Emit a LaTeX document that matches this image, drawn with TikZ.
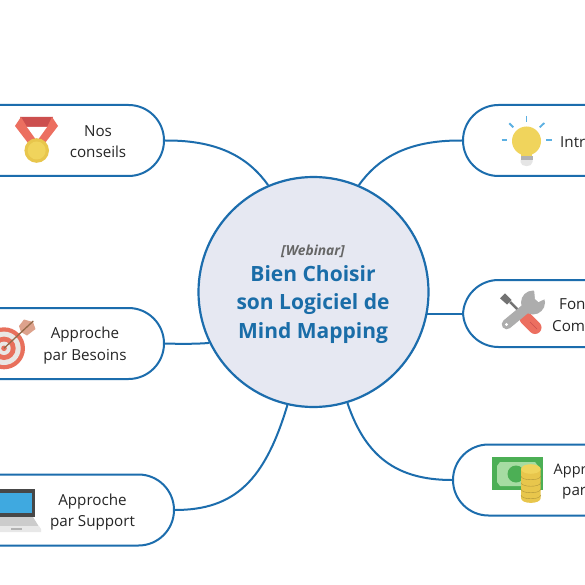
\documentclass[tikz,border=0pt]{standalone}
\usepackage{fontspec}
\setmainfont{Open Sans}
\definecolor{linec}{HTML}{1C6DAD}
\definecolor{hubfill}{HTML}{E6E8F2}
\definecolor{titlec}{HTML}{1A6DA8}
\definecolor{medalred}{HTML}{EC6F60}
\definecolor{medaldark}{HTML}{CC4F4E}
\definecolor{gold}{HTML}{F0D45C}
\definecolor{golddark}{HTML}{E8C64C}
\definecolor{ringred}{HTML}{E8705C}
\definecolor{ringlight}{HTML}{E9E7E4}
\definecolor{arrowbrown}{HTML}{946A48}
\definecolor{fletch}{HTML}{DDA28C}
\definecolor{screenblue}{HTML}{3FA9E0}
\definecolor{raysblue}{HTML}{5CB0E2}
\definecolor{billgreen}{HTML}{4CAF55}
\definecolor{billlight}{HTML}{A6DCA2}
\tikzset{
  pill/.style={draw=linec,line width=2pt,fill=white,rounded corners=35.5pt,inner sep=0pt},
  hub/.style={circle,draw=linec,line width=2.2pt,fill=hubfill,minimum size=230pt,inner sep=0pt},
  link/.style={draw=linec,line width=2pt},
  label/.style={inner sep=0pt,align=center,text=black!85,font=\fontsize{15.2}{21.5}\selectfont},
  cutlabel/.style={label,align=left,anchor=west},
  ray/.style={draw=raysblue,line width=1.8pt},
}
\begin{document}
\begin{tikzpicture}[x=1pt,y=-1pt]
\useasboundingbox (0,0) rectangle (585,585);
\clip (0,0) rectangle (585,585);
\fill[white] (0,0) rectangle (585,585);
% nodes
\node[hub] (c) at (313.5,292) {};
\node[pill,minimum width=264pt,minimum height=71pt] (nos) at (32,140.5) {};
\node[pill,minimum width=264pt,minimum height=71pt] (bes) at (32,343.5) {};
\node[pill,minimum width=274pt,minimum height=71pt] (sup) at (37,510) {};
\node[pill,minimum width=264pt,minimum height=71pt] (intro) at (595,140.5) {};
\node[pill,minimum width=264pt,minimum height=67pt] (fon) at (595,313.5) {};
\node[pill,minimum width=284pt,minimum height=71pt] (app) at (595,480) {};
\coordinate (fonhub) at (427,313.5);
% connectors
\draw[link] (nos.east) .. controls (222,140) and (250,160) .. (c.113);
\draw[link] (intro.west) .. controls (405,140) and (377,160) .. (c.67);
\draw[link] (fon.west) -- (fonhub);
\draw[link] (bes.east) .. controls (180,344) and (198,344) .. (c.206);
\draw[link] (sup.east) .. controls (235,510) and (265,480) .. (c.-103);
\draw[link] (app.west) .. controls (395,480) and (365,455) .. (c.-73);
% hub text
\node[inner sep=0pt,text=black!60,font=\fontsize{13.8}{15}\selectfont\bfseries\itshape] (web) at (313,251.5) {[Webinar]};
\node[inner sep=0pt,align=center,text=titlec,font=\fontsize{21}{28.7}\selectfont\bfseries] (title) at (313,304.5) {Bien Choisir\\son Logiciel de\\Mind Mapping};
% labels
\node[label] (t1) at (98,141.5) {Nos\\conseils};
\node[label] (t2) at (85,345.5) {Approche\\par Besoins};
\node[label] (t3) at (92.5,512) {Approche\\par Support};
\node[cutlabel] (t4) at (560,142) {Intr};
\node[cutlabel] (t5) at (559,304) {Fon};
\node[cutlabel] (t6) at (552,326) {Com};
\node[cutlabel,font=\fontsize{14.5}{21.5}\selectfont] (t7) at (553.5,471.5) {Appr};
\node[cutlabel] (t8) at (562,493) {par};
% medal
\fill[medaldark] (20,117) -- (53,117) -- (48,127) -- (26,127) -- cycle;
\fill[medalred] (15,126) -- (21,117) -- (27,127) -- (37,136) -- (42,145) -- (28,143) -- cycle;
\fill[medalred] (58,126) -- (52,117) -- (47,127) -- (37,136) -- (31,145) -- (45,143) -- cycle;
\fill[white] (27,127) -- (47,127) -- (37,141) -- cycle;
\fill[golddark] (36.7,150.5) circle (12.3);
\fill[gold] (36.7,150.5) circle (9);
% target
\fill[ringred] (4,348.3) circle (21);
\fill[ringlight] (4,348.3) circle (16.7);
\fill[ringred] (4,348.3) circle (11.7);
\fill[ringlight] (4,348.3) circle (6.7);
\fill[ringred] (4,348.3) circle (2.8);
\fill[fletch] (19,326) -- (24,319.5) -- (33,322) -- (35.5,329) -- (27,335.5) -- (21,332) -- cycle;
\draw[arrowbrown,line width=1.3pt] (4,348.3) -- (33.3,321);
% laptop
\fill[black!72] (-6,489) rectangle (35,517);
\fill[screenblue] (-6,492.5) rectangle (32,513);
\fill[black!20] (-8,517) -- (33,517) -- (41,530) -- (-8,530) -- cycle;
\fill[black!9] (-8,526) -- (39,526) -- (41,529) -- (41,532) -- (-8,532) -- cycle;
\fill[black!30] (11,527.5) rectangle (22,529.5);
% bulb
\fill[black!10] (520.5,160) -- (532.5,160) -- (532.5,162) .. controls (532.5,167.5) and (520.5,167.5) .. (520.5,162) -- cycle;
\fill[black!30] (520.5,156) rectangle (532.5,160);
\fill[gold] (526.5,141) circle (14.5);
\fill[gold] (521,150) rectangle (532,156.5);
\draw[ray] (526.5,116) -- (526.5,122);
\draw[ray] (509.3,123.3) -- (513.3,127.3);
\draw[ray] (539.7,127.3) -- (544.3,123);
\draw[ray] (501.7,140.3) -- (507.3,140.3);
\draw[ray] (546,140.3) -- (551.7,140.3);
% tools
\draw[black!55,line width=2.5pt] (510,302) -- (523.3,315);
\fill[black!55] (500,298.3) -- (505,293.3) -- (511.7,300) -- (507,304.5) -- cycle;
\draw[medalred,line width=13pt,line cap=round] (526,318.5) -- (535,327.5);
\draw[medaldark,line width=.6pt] (530,322) -- (537,329);
\draw[black!32,line width=10pt,line cap=round] (506.7,324.3) -- (530,305);
\fill[black!32] (533,302.5) circle (12);
\fill[white] (534,289) -- (535,299) -- (538.5,302) -- (547,298) -- (549,288) -- cycle;
\fill[white] (506.5,324.5) circle (1.6);
% money
\fill[billgreen] (492.3,457.3) rectangle (542.7,490);
\fill[billlight] (500,462) -- (535,462) -- (538,466) -- (538,482) -- (535,486) -- (500,486) -- (497,482) -- (497,466) -- cycle;
\fill[billgreen] (516,474) circle (8.5);
\fill[golddark] (521,469) -- (521,498) .. controls (521,504.5) and (540.7,504.5) .. (540.7,498) -- (540.7,469) -- cycle;
\foreach \yy in {476,482.5,489,495}{
  \draw[black!25!golddark,line width=.4pt] (521,\yy) .. controls (521,\yy+5) and (540.7,\yy+5) .. (540.7,\yy);
}
\fill[gold] (530.85,469) ellipse (9.85 and 4.8);
\end{tikzpicture}
\end{document}
